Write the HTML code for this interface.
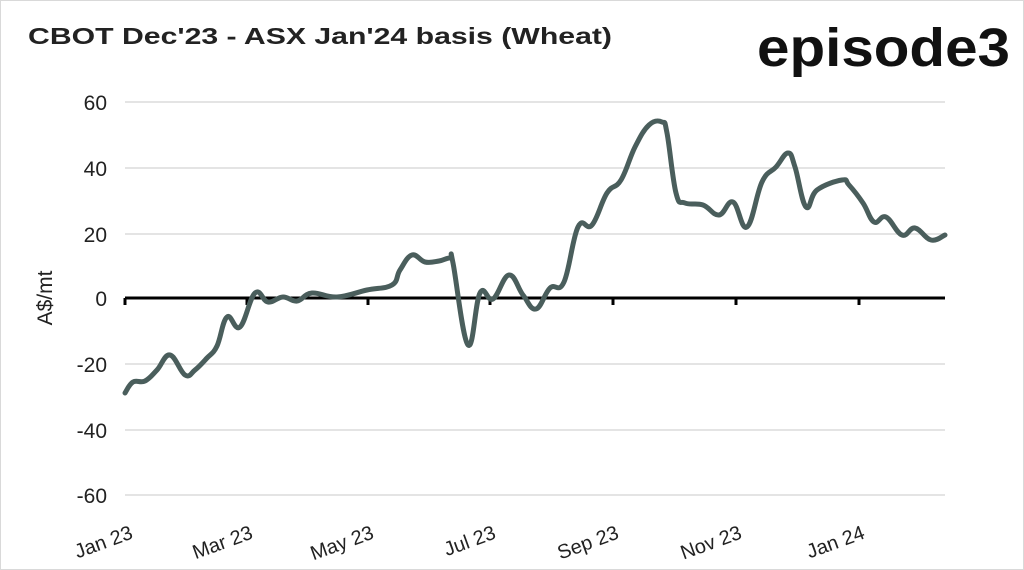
<!DOCTYPE html>
<html><head><style>
body{margin:0;background:#fff;}
svg{display:block;}
text{font-family:"Liberation Sans",sans-serif;fill:#222;}
</style></head><body>
<svg width="1024" height="570" viewBox="0 0 1024 570">
<rect x="0.5" y="0.5" width="1023" height="569" fill="#fff" stroke="#d9d9d9"/>
<text x="28" y="44" font-size="23" font-weight="bold" fill="#111" textLength="584" lengthAdjust="spacingAndGlyphs">CBOT Dec'23 - ASX Jan'24 basis (Wheat)</text>
<text x="757" y="66" font-size="54" font-weight="bold" textLength="253" lengthAdjust="spacingAndGlyphs" style="fill:#111">episode3</text>
<g stroke="#dcdcdc" stroke-width="1.5">
<line x1="125" x2="945" y1="102" y2="102"/><line x1="125" x2="945" y1="168" y2="168"/>
<line x1="125" x2="945" y1="234" y2="234"/><line x1="125" x2="945" y1="364" y2="364"/>
<line x1="125" x2="945" y1="430" y2="430"/><line x1="125" x2="945" y1="495" y2="495"/>
</g>
<g font-size="21" text-anchor="end">
<text x="107" y="110">60</text><text x="107" y="176">40</text><text x="107" y="242">20</text>
<text x="107" y="306">0</text><text x="107" y="372">-20</text><text x="107" y="438">-40</text><text x="107" y="503">-60</text>
</g>
<text transform="translate(52,298) rotate(-90)" font-size="21" text-anchor="middle">A$/mt</text>
<g stroke="#000" stroke-width="3">
<line x1="125" x2="945" y1="298" y2="298"/>
<line x1="125" x2="125" y1="298" y2="305"/><line x1="247" x2="247" y1="298" y2="305"/>
<line x1="368" x2="368" y1="298" y2="305"/><line x1="490" x2="490" y1="298" y2="305"/>
<line x1="613" x2="613" y1="298" y2="305"/><line x1="736" x2="736" y1="298" y2="305"/>
<line x1="859" x2="859" y1="298" y2="305"/>
</g>
<g font-size="20" text-anchor="end">
<text transform="translate(134,538) rotate(-20)">Jan 23</text>
<text transform="translate(254,538) rotate(-20)">Mar 23</text>
<text transform="translate(375,538) rotate(-20)">May 23</text>
<text transform="translate(497,538) rotate(-20)">Jul 23</text>
<text transform="translate(620,538) rotate(-20)">Sep 23</text>
<text transform="translate(743,538) rotate(-20)">Nov 23</text>
<text transform="translate(866,538) rotate(-20)">Jan 24</text>
</g>
<path id="ln" fill="none" stroke="#4a5e5c" stroke-width="5" stroke-linejoin="round" stroke-linecap="round" d=""/>
</svg>
<script>
var p=[[125,393],[133,382],[145,381],[157,370],[170,355],[185,375],[195,370],[207,358],[217,346],[227,317],[240,327],[255,293],[268,302],[283,297],[297,301],[312,293],[337,297],[367,290],[392,285],[400,270],[412,255],[425,262],[439,261],[450,258],[453,263],[468,345],[480,293],[493,299],[509,275],[523,295],[536,309],[550,288],[564,282],[578,227],[592,225],[607,193],[621,180],[635,147],[649,125],[662,122],[667,133],[676,193],[685,203],[703,205],[719,215],[733,202],[747,227],[762,182],[776,167],[788,153],[795,167],[806,207],[817,190],[842,180],[849,185],[863,203],[874,222],[886,217],[902,235],[915,228],[931,240],[945,235]];
var d="M"+p[0][0]+","+p[0][1];
for(var i=0;i<p.length-1;i++){var a=p[Math.max(i-1,0)],b=p[i],c=p[i+1],e=p[Math.min(i+2,p.length-1)];
var t=0.2;d+=" C"+(b[0]+(c[0]-a[0])*t)+","+(b[1]+(c[1]-a[1])*t)+" "+(c[0]-(e[0]-b[0])*t)+","+(c[1]-(e[1]-b[1])*t)+" "+c[0]+","+c[1];}
document.getElementById("ln").setAttribute("d",d);
</script>
</body></html>
